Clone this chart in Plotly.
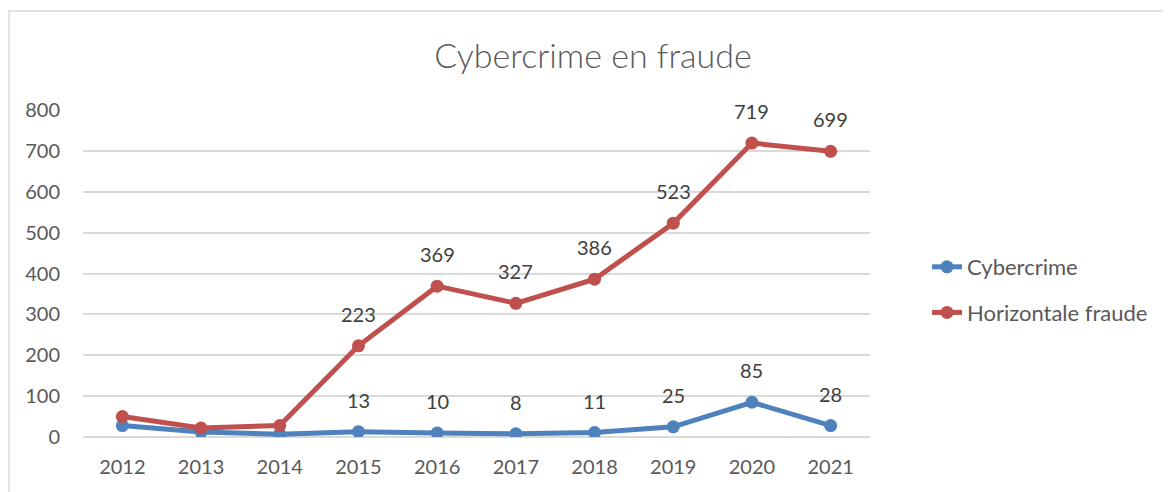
import plotly.graph_objects as go

years = ["2012", "2013", "2014", "2015", "2016", "2017", "2018", "2019", "2020", "2021"]
cybercrime = [28, 12, 7, 13, 10, 8, 11, 25, 85, 28]
horizontale = [50, 22, 28, 223, 369, 327, 386, 523, 719, 699]
label_start = 3  # data labels shown from 2015 onward

OFF = 8  # page body margin
W, H = 1171 - OFF, 492 - OFF
L, R, T, B = 83 - OFF, 870 - OFF, 110 - OFF, 437 - OFF
FONT = "Lato"

fig = go.Figure()
fig.add_trace(go.Scatter(
    x=years, y=cybercrime, name="Cybercrime", mode="lines+markers",
    line=dict(color="#4f81bd", width=5), marker=dict(size=13, color="#4f81bd"),
    legendgroup="a"))
fig.add_trace(go.Scatter(
    x=years, y=horizontale, name="Horizontale fraude", mode="lines+markers",
    line=dict(color="#c0504d", width=5), marker=dict(size=13, color="#c0504d"),
    legendgroup="b"))

annotations = []
for series in (cybercrime, horizontale):
    for i in range(label_start, len(years)):
        annotations.append(dict(x=i, y=series[i], xref="x", yref="y",
                                text=str(series[i]), showarrow=False, yshift=32,
                                font=dict(family=FONT, size=20, color="#404040")))

pw, ph = R - L, B - T
def px(xp):
    return (xp - OFF - L) / pw
def py(yp):
    return (B - (yp - OFF)) / ph

fig.update_layout(
    width=W, height=H,
    margin=dict(l=L, r=W - R, t=T, b=H - B),
    paper_bgcolor="white", plot_bgcolor="white",
    title=dict(text="Cybercrime en fraude", x=(593 - OFF) / W, xanchor="center",
               y=1 - (56 - OFF) / H, yanchor="middle",
               font=dict(family=FONT, size=34, color="#595959", weight=300)),
    font=dict(family=FONT, color="#595959"),
    xaxis=dict(type="category", range=[-0.5, 9.5], showgrid=False,
               showline=False, zeroline=False, ticks="", ticklabelstandoff=16,
               tickfont=dict(family=FONT, size=20, color="#595959")),
    yaxis=dict(range=[0, 800], dtick=100, showgrid=True, gridcolor="#d9d9d9",
               gridwidth=1.5, zeroline=True, zerolinecolor="#d9d9d9",
               zerolinewidth=1.5, showline=False, ticks="", ticklabelstandoff=22,
               tickfont=dict(family=FONT, size=20, color="#595959")),
    legend=dict(x=px(927), y=py(290), xanchor="left", yanchor="middle",
                font=dict(family=FONT, size=22, color="#595959"),
                traceorder="grouped", tracegroupgap=14,
                bgcolor="rgba(0,0,0,0)"),
    annotations=annotations,
    shapes=[dict(type="rect", xref="paper", yref="paper",
                 x0=px(9), x1=px(1200), y0=py(520), y1=py(11),
                 line=dict(color="#d9d9d9", width=1.5), layer="below")],
)

fig.write_html("out.html")
